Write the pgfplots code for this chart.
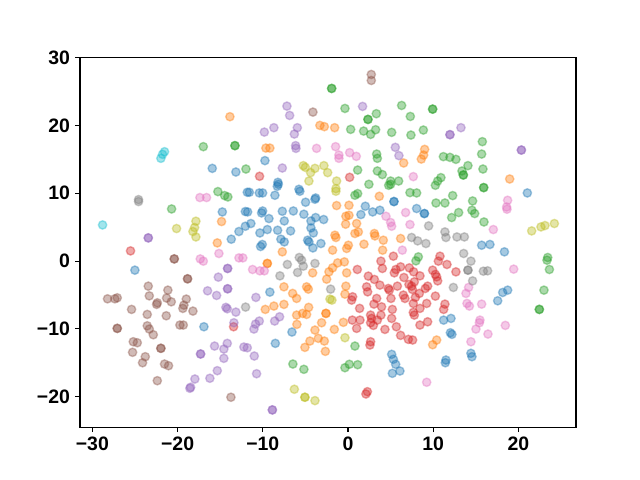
\documentclass[border=0pt]{standalone}
\usepackage{pgfplots}
\pgfplotsset{compat=1.18}
\usepackage{fontspec}
\setmainfont{Liberation Sans}
\definecolor{tabblue}{HTML}{1F77B4}
\definecolor{taborange}{HTML}{FF7F0E}
\definecolor{tabgreen}{HTML}{2CA02C}
\definecolor{tabred}{HTML}{D62728}
\definecolor{tabpurple}{HTML}{9467BD}
\definecolor{tabbrown}{HTML}{8C564B}
\definecolor{tabpink}{HTML}{E377C2}
\definecolor{tabgray}{HTML}{7F7F7F}
\definecolor{tabolive}{HTML}{BCBD22}
\definecolor{tabcyan}{HTML}{17BECF}
\pgfplotsset{
  dot/.style={only marks, mark=*, mark size=3pt,
    mark options={fill=#1, draw=#1, fill opacity=0.4, draw opacity=0.4, line width=1pt}}
}
\begin{document}
\begin{tikzpicture}
\useasboundingbox (0,0) rectangle (460.8pt,345.6pt);
\begin{axis}[
  at={(57.6pt,38.016pt)}, anchor=south west, scale only axis,
  width=357.12pt, height=266.11pt,
  xmin=-31.45, xmax=26.75, ymin=-24.51, ymax=30.02,
  line width=0.8pt,
  tick align=outside, major tick length=3.5pt,
  tick style={line width=0.8pt, black},
  xtick pos=bottom, ytick pos=left,
  xtick={-30,-20,-10,0,10,20}, xticklabels={−30,−20,−10,0,10,20},
  ytick={-20,-10,0,10,20,30}, yticklabels={−20,−10,0,10,20,30},
  ticklabel style={font=\bfseries\fontsize{14}{16}\selectfont},
]
% blue
\addplot[dot=tabblue] coordinates {
(-15.93,13.68)(-13.16,13.14)(-9.75,14.82)(-8.23,11.62)(-14.75,7.25)(-12.05,7.31)(-11.82,10.15)(-12.80,4.36)(-13.70,3.23)(-12.05,5.14)
(-25.01,-1.34)(-11.58,10.15)(-10.41,10.05)(-10.02,10.05)(-8.58,9.71)(-8.18,11.33)(-8.30,11.03)(-5.76,10.59)(-5.65,10.30)(-3.80,9.31)
(-3.88,9.12)(-4.98,8.68)(-11.78,7.25)(-10.02,7.39)(-10.14,7.10)(-9.28,6.27)(-7.71,7.35)(-6.42,7.39)(-5.18,6.91)(-4.35,5.92)
(-3.80,6.42)(-2.86,6.13)(-7.48,5.92)(-11.40,5.54)(-9.47,4.65)(-10.34,4.15)(-8.26,4.55)(-6.74,4.45)(-4.35,4.89)(-4.07,4.15)
(-7.88,3.23)(-7.48,2.83)(-4.74,3.08)(-4.59,2.83)(-3.18,2.59)(-10.06,2.45)(-10.26,2.15)(-4.12,1.94)(-9.17,-4.58)(5.39,8.78)
(5.39,8.78)(2.03,8.09)(1.51,6.86)(2.89,7.25)(3.74,7.50)(8.05,7.75)(8.96,7.01)(8.96,7.01)(21.04,10.05)(15.68,2.34)
(16.65,2.45)(18.35,1.36)(18.15,-4.63)(18.73,-4.29)(17.56,-5.86)(-16.91,-9.69)(-6.58,-10.47)(-8.53,-12.14)(5.12,-13.76)(5.32,-14.49)
(5.59,-15.23)(6.09,-16.22)(5.20,-16.56)(11.22,-8.71)(12.08,-8.46)(12.01,-10.58)(12.19,-10.81)(14.42,-13.61)(14.54,-14.11)(11.49,-14.60)
(11.42,-15.00)
};
% orange
\addplot[dot=taborange] coordinates {
(-13.86,21.30)(-3.30,20.02)(-2.78,19.83)(-1.57,19.68)(-9.64,16.67)(-9.17,16.67)(6.53,14.47)(8.99,16.48)(8.87,15.64)(8.60,15.05)
(18.97,12.11)(-14.84,5.83)(-15.34,2.68)(-1.34,8.19)(0.11,8.23)(-0.25,6.61)(0.11,6.76)(-0.28,5.44)(-1.54,3.82)(-1.42,3.48)
(1.01,5.54)(1.21,4.30)(0.81,4.07)(3.67,9.56)(3.09,4.07)(3.16,3.71)(4.14,3.08)(6.17,3.33)(1.87,2.49)(0.04,2.34)
(-0.16,1.86)(-1.81,1.61)(4.06,1.61)(-7.71,1.36)(-9.47,-0.35)(-9.47,-0.35)(-0.43,-0.12)(-1.22,-0.27)(-1.81,-1.00)(-2.24,-1.59)
(-2.51,-2.67)(-0.16,-1.74)(-4.15,-1.74)(-7.52,-3.80)(-6.50,-4.77)(-4.86,-3.80)(-4.66,-4.14)(-6.03,-5.51)(-0.25,-3.70)(-0.36,-4.88)
(-9.71,-7.13)(-8.70,-6.64)(-7.52,-6.39)(-4.62,-6.83)(-6.03,-7.97)(-5.33,-7.72)(-4.86,-7.87)(-2.59,-7.72)(-2.59,-7.72)(-6.00,-9.34)
(-3.10,-9.10)(-3.88,-10.18)(-1.61,-10.08)(-0.55,-9.04)(-4.47,-11.80)(-3.49,-11.40)(-2.78,-11.80)(-5.06,-12.73)(-2.66,-13.32)(10.40,-11.65)
(9.93,-12.34)
};
% green
\addplot[dot=tabgreen] coordinates {
(-16.98,16.88)(-13.27,17.03)(-13.27,17.03)(-11.98,13.58)(-1.92,25.47)(-1.92,25.47)(-0.36,22.52)(3.32,21.74)(2.34,20.90)(2.34,20.90)
(6.29,22.96)(7.31,21.34)(0.31,19.43)(1.83,19.18)(2.65,18.69)(3.24,19.38)(5.12,18.99)(7.38,18.59)(3.36,15.79)(3.44,15.16)
(1.13,13.43)(3.44,13.29)(4.03,12.76)(5.00,11.81)(5.94,11.81)(9.93,22.42)(9.93,22.42)(8.84,19.33)(15.76,17.62)(15.68,15.79)
(11.19,15.41)(11.96,15.30)(12.66,15.01)(14.07,14.08)(13.37,13.29)(13.53,12.70)(13.53,12.70)(15.83,13.58)(10.90,12.31)(10.52,11.81)
(-20.70,7.69)(-15.27,10.25)(-14.48,9.66)(-14.10,9.46)(0.81,9.71)(1.13,9.96)(2.45,11.33)(4.77,11.18)(5.00,11.33)(7.27,10.10)
(10.25,11.18)(8.05,10.05)(15.92,10.84)(15.92,10.84)(12.28,9.66)(10.32,8.57)(11.37,8.57)(14.62,8.87)(14.54,7.50)(14.86,7.01)
(12.98,7.16)(12.16,6.42)(15.95,5.77)(8.25,0.62)(7.97,0.03)(23.43,0.53)(23.35,0.13)(23.63,-1.24)(22.99,-4.29)(22.45,-7.13)
(22.45,-7.13)(0.81,-12.54)(-6.47,-15.19)(-5.18,-15.97)(-0.36,-15.73)(0.15,-15.23)(1.13,-15.29)
};
% red
\addplot[dot=tabred] coordinates {
(-10.38,12.51)(0.19,12.36)(-25.52,1.50)(-13.43,-9.69)(3.86,-0.01)(4.03,-1.09)(5.32,0.72)(6.17,-0.85)(5.62,-1.24)(5.43,-1.74)
(7.19,-1.00)(1.09,-1.24)(2.38,-2.22)(2.18,-3.80)(3.09,-2.71)(3.74,-3.55)(4.73,-4.04)(4.85,-4.29)(5.79,-3.70)(6.56,-2.42)
(7.15,-3.45)(7.46,-3.70)(0.54,-5.27)(2.30,-4.54)(3.36,-5.51)(5.04,-5.51)(6.49,-5.02)(6.68,-5.51)(7.55,-4.18)(10.79,0.72)
(10.60,-0.01)(11.61,-0.50)(12.66,-1.59)(9.93,-1.34)(10.25,-1.97)(10.40,-2.33)(10.52,-2.92)(8.44,-2.18)(7.70,-1.59)(7.78,-3.06)
(9.34,-3.70)(9.07,-4.04)(8.37,-4.77)(10.25,-5.17)(7.90,-5.36)(11.37,-6.35)(9.23,-6.25)(0.42,-5.76)(1.36,-6.98)(3.04,-6.35)
(3.94,-6.75)(5.20,-7.13)(7.66,-7.57)(0.50,-8.71)(1.40,-8.71)(1.01,-9.93)(2.65,-7.97)(2.77,-8.46)(2.65,-9.10)(2.97,-9.49)
(3.44,-8.71)(3.86,-7.97)(4.33,-10.08)(5.12,-8.46)(5.67,-9.69)(6.17,-10.96)(7.08,-11.55)(2.65,-11.90)(2.57,-12.39)(2.27,-19.27)
(2.10,-19.61)(7.66,-6.25)(8.44,-6.98)(11.22,-7.13)(8.44,-9.44)(9.34,-8.96)(7.58,-11.65)(7.78,-7.97)
};
% purple
\addplot[dot=tabpurple] coordinates {
(-7.17,22.86)(-6.85,21.49)(1.71,22.82)(-9.82,19.03)(-8.70,19.68)(-5.95,19.68)(-6.30,18.74)(-6.15,17.03)(-6.11,16.63)(5.55,16.78)
(5.97,15.56)(-7.71,13.73)(11.96,18.65)(11.96,18.65)(13.25,19.68)(20.34,16.38)(20.34,16.38)(-23.44,3.42)(-23.44,3.42)(-14.13,-1.09)
(-14.13,-1.09)(-15.22,-2.37)(-14.13,-4.09)(-14.13,-4.09)(-16.48,-4.39)(-15.42,-5.07)(-14.33,-6.83)(-14.17,-7.04)(-13.16,-7.53)(-13.39,-9.10)
(-14.17,-12.14)(-14.57,-12.98)(-15.66,-12.54)(-17.30,-13.71)(-17.30,-13.71)(-14.57,-14.35)(-15.34,-16.17)(-16.21,-17.29)(-17.97,-17.40)(-18.47,-18.62)
(-18.56,-18.77)(-12.22,-12.68)(-11.82,-12.79)(-10.81,-5.36)(-10.41,-8.85)(-10.85,-9.29)(-11.04,-10.03)(-8.03,-8.22)(-8.61,-8.85)(-11.00,-14.01)
(-10.73,-16.62)(-8.88,-21.96)(-8.88,-21.96)
};
% brown
\addplot[dot=tabbrown] coordinates {
(2.73,27.53)(2.73,26.65)(-4.12,21.98)(-20.39,0.32)(-20.39,0.32)(-18.83,-2.62)(-18.83,-2.62)(-23.44,-3.70)(-21.14,-4.29)(-23.32,-5.13)
(-28.22,-5.57)(-27.36,-5.57)(-27.08,-5.42)(-22.38,-6.16)(-21.29,-5.46)(-20.74,-6.01)(-18.98,-5.61)(-25.40,-7.13)(-23.56,-7.87)(-22.46,-6.39)
(-21.33,-8.07)(-19.38,-6.98)(-19.26,-6.50)(-18.20,-7.38)(-27.08,-9.93)(-27.08,-9.93)(-23.56,-9.55)(-23.32,-10.03)(-22.85,-10.87)(-19.73,-9.44)
(-19.33,-9.44)(-25.20,-11.90)(-24.73,-12.05)(-25.28,-13.46)(-21.96,-12.87)(-21.96,-12.87)(-23.79,-14.11)(-24.11,-15.00)(-21.53,-15.19)(-21.06,-15.44)
(-22.38,-17.65)(-13.74,-20.09)
};
% pink
\addplot[dot=tabpink] coordinates {
(-3.69,16.63)(-1.46,16.88)(-1.07,15.64)(-1.07,15.16)(0.19,16.00)(0.97,15.45)(7.66,12.46)(-17.38,9.37)(-16.60,9.37)(-17.34,0.32)
(-16.98,-0.01)(-15.15,1.12)(-12.80,0.47)(-12.34,0.47)(-11.20,-1.24)(-10.34,-1.44)(-9.82,-1.44)(4.45,6.61)(5.00,5.69)(5.12,5.14)
(6.76,7.16)(7.27,5.39)(6.37,1.61)(18.73,8.97)(18.61,7.98)(18.65,7.65)(17.05,4.65)(19.44,-1.19)(14.15,-3.89)(13.84,-4.77)
(15.68,-6.35)(13.96,-6.25)(14.24,-6.64)(15.48,-8.71)(15.41,-9.10)(15.01,-10.03)(16.42,-10.77)(18.46,-9.49)(14.42,-11.90)(9.23,-17.88)
};
% gray
\addplot[dot=tabgray] coordinates {
(-24.58,9.07)(-24.58,8.78)(-5.72,0.53)(-5.45,0.13)(-7.12,-0.50)(-5.92,-1.68)(-5.25,-0.75)(-3.88,-0.35)(-7.99,-2.18)(-2.04,-4.14)
(7.46,3.48)(9.46,5.19)(11.37,4.30)(11.49,3.48)(8.17,2.98)(9.14,2.59)(12.78,3.56)(13.65,3.56)(13.57,1.12)(14.42,-0.01)
(14.07,-1.34)(14.07,-1.34)(15.88,-1.49)(16.38,-1.44)(14.62,-2.92)(12.36,-3.89)(-12.02,-6.79)
};
% olive
\addplot[dot=tabolive] coordinates {
(-5.25,14.08)(-5.01,13.83)(-3.88,13.68)(-2.83,14.08)(-4.39,13.05)(-2.39,13.05)(-4.59,11.81)(-1.34,11.81)(-17.85,5.88)(-18.00,4.95)
(-18.20,4.36)(-17.85,3.56)(-20.12,4.80)(-1.42,10.30)(-1.42,10.69)(-2.12,-5.61)(-1.89,-5.76)(21.55,4.45)(22.64,5.04)(23.11,5.24)
(24.21,5.54)(-0.36,-11.31)(-6.30,-18.91)(-5.06,-20.09)(-5.06,-20.09)(-3.88,-20.59)
};
% cyan
\addplot[dot=tabcyan] coordinates {
(-21.53,16.14)(-21.76,15.75)(-21.96,15.16)(-28.80,5.33)
};
\end{axis}
\end{tikzpicture}
\end{document}
